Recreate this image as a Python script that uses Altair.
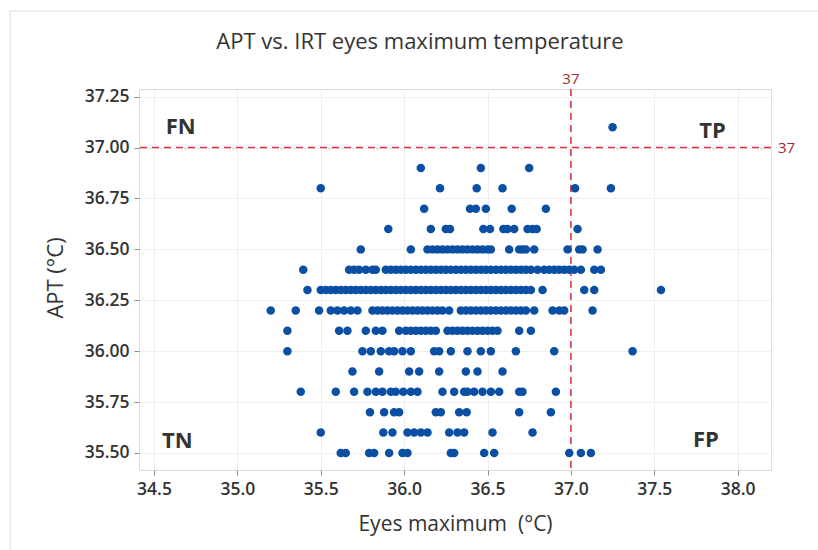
import altair as alt
import pandas as pd

# Eyes maximum IRT temperature (°C) for each APT reading (°C)
eyes_371 = [37.25]
eyes_369 = [36.10, 36.46, 36.75]
eyes_368 = [35.50, 36.215, 36.435, 36.59, 37.025, 37.24]
eyes_367 = [36.12, 36.395, 36.43, 36.49, 36.645, 36.85]
eyes_366 = [35.905, 36.16, 36.25, 36.275, 36.475, 36.515, 36.595, 36.62, 36.66,
            36.74, 36.77, 36.795, 37.04]
eyes_365 = [35.74, 36.04, 36.14, 36.17, 36.20, 36.23, 36.26, 36.29, 36.32, 36.35,
            36.38, 36.41, 36.44, 36.47, 36.50, 36.52, 36.63, 36.69, 36.71, 36.73,
            36.78, 36.98, 37.05, 37.07, 37.16]
eyes_364 = [35.395, 35.67, 35.70, 35.73, 35.77, 35.81, 35.83, 35.89, 35.92, 35.95,
            35.98, 36.01, 36.04, 36.07, 36.10, 36.13, 36.16, 36.19, 36.22, 36.25,
            36.28, 36.31, 36.34, 36.37, 36.40, 36.43, 36.46, 36.49, 36.52, 36.55,
            36.58, 36.61, 36.64, 36.67, 36.70, 36.73, 36.76, 36.80, 36.84, 36.87,
            36.90, 36.93, 36.96, 36.99, 37.02, 37.06, 37.14, 37.18]
eyes_363 = [35.42, 35.50, 35.53, 35.56, 35.59, 35.62, 35.65, 35.68, 35.71, 35.74,
            35.77, 35.80, 35.83, 35.86, 35.89, 35.92, 35.95, 35.98, 36.01, 36.04,
            36.07, 36.10, 36.13, 36.16, 36.19, 36.22, 36.25, 36.28, 36.31, 36.34,
            36.37, 36.40, 36.43, 36.46, 36.49, 36.52, 36.55, 36.58, 36.61, 36.64,
            36.67, 36.70, 36.73, 36.76, 36.83, 37.08, 37.14, 37.54]
eyes_362 = [35.20, 35.35, 35.49, 35.56, 35.60, 35.64, 35.68, 35.72, 35.81, 35.84,
            35.87, 35.90, 35.93, 35.96, 35.99, 36.02, 36.05, 36.08, 36.11, 36.14,
            36.17, 36.20, 36.23, 36.27, 36.34, 36.37, 36.40, 36.43, 36.46, 36.49,
            36.52, 36.55, 36.58, 36.61, 36.64, 36.67, 36.70, 36.73, 36.78, 36.89,
            36.93, 36.96, 37.13]
eyes_361 = [35.30, 35.61, 35.66, 35.77, 35.83, 35.87, 35.97, 36.01, 36.04, 36.07,
            36.10, 36.13, 36.16, 36.19, 36.26, 36.29, 36.32, 36.35, 36.38, 36.41,
            36.44, 36.47, 36.50, 36.53, 36.56, 36.69, 36.76]
eyes_360 = [35.30, 35.75, 35.80, 35.86, 35.91, 35.94, 35.99, 36.04, 36.18, 36.21,
            36.28, 36.38, 36.46, 36.52, 36.67, 36.90, 37.37]
eyes_359 = [35.69, 35.85, 36.03, 36.09, 36.21, 36.37, 36.44, 36.59]
eyes_358 = [35.38, 35.59, 35.70, 35.78, 35.83, 35.87, 35.92, 35.95, 35.995, 36.04,
            36.08, 36.23, 36.30, 36.36, 36.38, 36.42, 36.47, 36.52, 36.57, 36.69,
            36.71, 36.91]
eyes_357 = [35.795, 35.88, 35.94, 35.97, 36.19, 36.22, 36.33, 36.375, 36.69, 36.88]
eyes_356 = [35.50, 35.875, 35.93, 36.02, 36.06, 36.10, 36.14, 36.27, 36.32, 36.36,
            36.53, 36.77]
eyes_355 = [35.62, 35.65, 35.79, 35.82, 35.91, 35.99, 36.02, 36.28, 36.30, 36.48,
            36.54, 36.99, 37.06, 37.12]

apt_levels = [37.1, 36.9, 36.8, 36.7, 36.6, 36.5, 36.4, 36.3, 36.2, 36.1, 36.0,
              35.9, 35.8, 35.7, 35.6, 35.5]
eyes_rows = [eyes_371, eyes_369, eyes_368, eyes_367, eyes_366, eyes_365, eyes_364,
             eyes_363, eyes_362, eyes_361, eyes_360, eyes_359, eyes_358, eyes_357,
             eyes_356, eyes_355]

x_ticks = [34.5, 35.0, 35.5, 36.0, 36.5, 37.0, 37.5, 38.0]
y_ticks = [35.50, 35.75, 36.00, 36.25, 36.50, 36.75, 37.00, 37.25]

cutoff = 37.0
quadrant_names = ["FN", "TP", "TN", "FP"]
quadrant_x = [34.66, 37.85, 34.64, 37.81]
quadrant_y = [37.10, 37.08, 35.56, 35.565]

chart_title = "APT vs. IRT eyes maximum temperature"
x_title = "Eyes maximum\u00a0 (°C)"
y_title = "APT (°C)"

rows = []
for apt, eyes in zip(apt_levels, eyes_rows):
    for e in eyes:
        rows.append({"eyes": e, "apt": apt})
points_df = pd.DataFrame(rows)

W, H = 632, 381
LEFT, TOP = 139, 89
FONT = "Open Sans"
INK = "#333333"

x_scale = alt.Scale(domain=[34.41, 38.2], nice=False, zero=False)
y_scale = alt.Scale(domain=[35.416, 37.288], nice=False, zero=False)

x_axis = alt.Axis(values=x_ticks, format=".1f", title=x_title,
                  labelFontSize=17.5, labelFontWeight=600, labelColor=INK,
                  labelFont=FONT, labelPadding=5,
                  titleFont=FONT, titleFontSize=21, titleFontWeight="normal",
                  titleColor=INK, titleY=54, titleBaseline="middle",
                  tickColor="#8c8c8c", tickSize=5, domain=False,
                  grid=True, gridColor="#efefef", gridWidth=1)
y_axis = alt.Axis(values=y_ticks, format=".2f", title=y_title,
                  labelFontSize=17.5, labelFontWeight=600, labelColor=INK,
                  labelFont=FONT, labelPadding=5,
                  titleFont=FONT, titleFontSize=22, titleFontWeight="normal",
                  titleColor=INK, titleX=-84, titleY=H / 2 - 2, titleAngle=-90,
                  titleAlign="center", titleBaseline="middle",
                  tickColor="#8c8c8c", tickSize=5, domain=False,
                  grid=True, gridColor="#efefef", gridWidth=1)

points = alt.Chart(points_df).mark_circle(size=72, color="#0a4fa3", opacity=1).encode(
    x=alt.X("eyes:Q", scale=x_scale, axis=x_axis),
    y=alt.Y("apt:Q", scale=y_scale, axis=y_axis),
)

cut_df = pd.DataFrame({"v": [cutoff], "lab": ["37"]})
red_line = "#d6323a"
red_text = "#a8262c"

h_rule = alt.Chart(cut_df).mark_rule(color=red_line, strokeWidth=1.5,
                                     strokeDash=[7, 5]).encode(
    y=alt.Y("v:Q", scale=y_scale))
v_rule = alt.Chart(cut_df).mark_rule(color=red_line, strokeWidth=1.5,
                                     strokeDash=[7, 5]).encode(
    x=alt.X("v:Q", scale=x_scale))

h_label = alt.Chart(cut_df).mark_text(font=FONT, fontSize=15, color=red_text,
                                      align="left", baseline="middle").encode(
    y=alt.Y("v:Q", scale=y_scale), x=alt.value(W + 7), text="lab:N")
v_label = alt.Chart(cut_df).mark_text(font=FONT, fontSize=15, color=red_text,
                                      align="center", baseline="bottom").encode(
    x=alt.X("v:Q", scale=x_scale), y=alt.value(-2), text="lab:N")

quad_df = pd.DataFrame({"name": quadrant_names, "x": quadrant_x, "y": quadrant_y})
quads = alt.Chart(quad_df).mark_text(font=FONT, fontSize=22, fontWeight="bold",
                                     color=INK, align="center",
                                     baseline="middle").encode(
    x=alt.X("x:Q", scale=x_scale), y=alt.Y("y:Q", scale=y_scale), text="name:N")

title_df = pd.DataFrame({"t": [chart_title]})
title = alt.Chart(title_df).mark_text(font=FONT, fontSize=22, color=INK,
                                      align="center", baseline="middle").encode(
    x=alt.value(420 - LEFT), y=alt.value(42 - TOP), text="t:N")

# light outer border of the figure panel
frame_df = pd.DataFrame({"k": [0]})
top_edge = alt.Chart(frame_df).mark_rule(color="#dddddd", strokeWidth=1).encode(
    x=alt.value(10 - LEFT), x2=alt.value(818 - LEFT), y=alt.value(11 - TOP))
left_edge = alt.Chart(frame_df).mark_rule(color="#dddddd", strokeWidth=1).encode(
    x=alt.value(10 - LEFT), y=alt.value(11 - TOP), y2=alt.value(550 - TOP))

chart = alt.layer(
    top_edge, left_edge, h_rule, v_rule, points, h_label, v_label, quads, title
).properties(
    width=W, height=H,
    autosize=alt.AutoSizeParams(type="none"),
    padding={"left": LEFT, "top": TOP, "right": 818 - LEFT - W, "bottom": 550 - TOP - H},
).configure_view(
    stroke="#8c8c8c", strokeWidth=1.5
).configure(background="white")

chart.save("out.html", embed_options={"renderer": "svg", "actions": False})
